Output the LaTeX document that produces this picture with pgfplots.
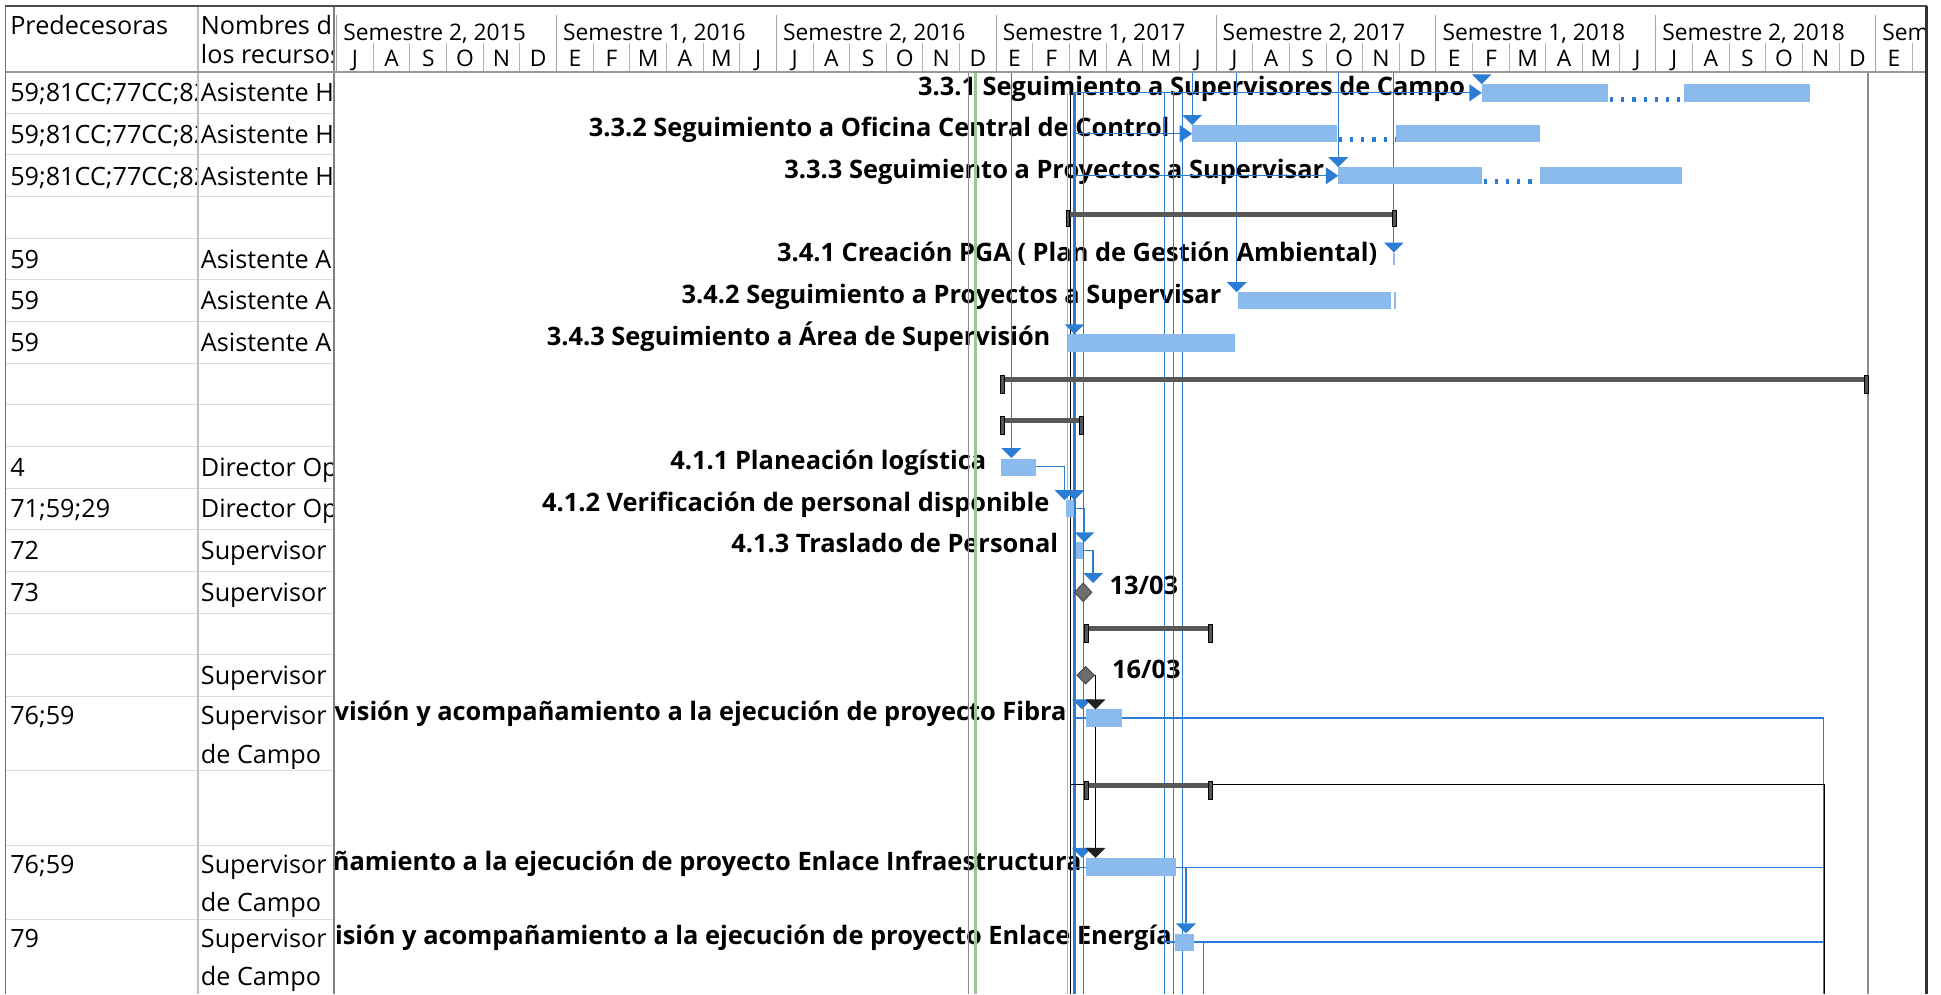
\documentclass[border=0pt]{standalone}
\usepackage{fontspec}
\setmainfont{Open Sans}
\usepackage{pgfplots}
\pgfplotsset{compat=1.18}
\definecolor{barblue}{HTML}{8ABBEC}
\definecolor{linkblue}{HTML}{2B7CD5}
\definecolor{lightlink}{HTML}{8FBCEB}
\definecolor{sumgray}{HTML}{575757}
\definecolor{msgray}{HTML}{6E6E6E}
\definecolor{todaygreen}{HTML}{94CB94}
\definecolor{gridgray}{HTML}{DCDCDC}
\definecolor{hdrgray}{HTML}{A8A8A8}
\definecolor{tickgray}{HTML}{B4B4B4}
\newcommand\tfont{\fontsize{12.6}{15}\selectfont}
\newcommand\lfont{\fontsize{12.7}{15}\selectfont\bfseries}
\newcommand\hfont{\fontsize{11.4}{13}\selectfont}
\tikzset{
  tcell/.style={anchor=base west, inner sep=0pt, font=\tfont},
  glab/.style={anchor=base east, inner sep=0pt, font=\lfont},
  glink/.style={linkblue, line width=0.6pt},
  gbar/.style={barblue, line width=8.67pt},
  gtri/.style={fill=linkblue, draw=none},
  gbtri/.style={fill=black!88, draw=none},
  gsumm/.style={sumgray, line width=2.5pt},
  gcap/.style={fill=sumgray, draw=black, line width=0.3pt},
}
\pgfplotsset{
  lay/.style={hide axis, scale only axis, y dir=reverse, ymin=0, ymax=803,
    height=497.01pt, enlargelimits=false, anchor=south west},
}
\newcommand\ML[2]{\node[anchor=base, inner sep=0pt, font=\hfont] at (#1,54) {#2};}
\begin{document}
\begin{tikzpicture}
% ---------------- column 1: Predecesoras
\begin{axis}[lay, at={(0pt,0pt)}, width=99.03pt, xmin=0, xmax=160, clip=true]
\node[tcell] at (8,28) {Predecesoras};
\node[tcell] at (8,82.2) {59;81CC;77CC;82CC};
\node[tcell] at (8,115.9) {59;81CC;77CC;82CC};
\node[tcell] at (8,149.5) {59;81CC;77CC;82CC};
\node[tcell] at (8,216.7) {59};
\node[tcell] at (8,250.3) {59};
\node[tcell] at (8,284) {59};
\node[tcell] at (8,384.8) {4};
\node[tcell] at (8,418.4) {71;59;29};
\node[tcell] at (8,452.1) {72};
\node[tcell] at (8,485.7) {73};
\node[tcell] at (8,585.5) {76;59};
\node[tcell] at (8,705.5) {76;59};
\node[tcell] at (8,765.5) {79};
\end{axis}
% ---------------- column 2: Nombres de los recursos
\begin{axis}[lay, at={(99.03pt,0pt)}, width=68.08pt, xmin=160, xmax=270, clip=true]
\node[tcell] at (162,28) {Nombres de};
\node[tcell] at (162,51.5) {los recursos};
\node[tcell] at (162,82.2) {Asistente HSEQ};
\node[tcell] at (162,115.9) {Asistente HSEQ};
\node[tcell] at (162,149.5) {Asistente HSEQ};
\node[tcell] at (162,216.7) {Asistente Ambiental};
\node[tcell] at (162,250.3) {Asistente Ambiental};
\node[tcell] at (162,284) {Asistente Ambiental};
\node[tcell] at (162,384.8) {Director Operativo};
\node[tcell] at (162,418.4) {Director Operativo};
\node[tcell] at (162,452.1) {Supervisor de Campo};
\node[tcell] at (162,485.7) {Supervisor de Campo};
\node[tcell] at (162,553) {Supervisor de Campo};
\node[tcell] at (162,585.5) {Supervisor};
\node[tcell] at (162,616.5) {de Campo};
\node[tcell] at (162,705.5) {Supervisor};
\node[tcell] at (162,736.5) {de Campo};
\node[tcell] at (162,765.5) {Supervisor};
\node[tcell] at (162,796.5) {de Campo};
\end{axis}
% ---------------- Gantt (x in months since 1 July 2015)
\begin{axis}[lay, at={(167.11pt,0pt)}, width=795.96pt, xmin=-0.06757, xmax=43.3784, clip=true]
% timescale
\addplot[tickgray, line width=0.5pt, unbounded coords=jump] coordinates {
(1,35)(1,58)(1,nan)(2,35)(2,58)(2,nan)(3,35)(3,58)(3,nan)(4,35)(4,58)(4,nan)(5,35)(5,58)(5,nan)
(7,35)(7,58)(7,nan)(8,35)(8,58)(8,nan)(9,35)(9,58)(9,nan)(10,35)(10,58)(10,nan)(11,35)(11,58)(11,nan)
(13,35)(13,58)(13,nan)(14,35)(14,58)(14,nan)(15,35)(15,58)(15,nan)(16,35)(16,58)(16,nan)(17,35)(17,58)(17,nan)
(19,35)(19,58)(19,nan)(20,35)(20,58)(20,nan)(21,35)(21,58)(21,nan)(22,35)(22,58)(22,nan)(23,35)(23,58)(23,nan)
(25,35)(25,58)(25,nan)(26,35)(26,58)(26,nan)(27,35)(27,58)(27,nan)(28,35)(28,58)(28,nan)(29,35)(29,58)(29,nan)
(31,35)(31,58)(31,nan)(32,35)(32,58)(32,nan)(33,35)(33,58)(33,nan)(34,35)(34,58)(34,nan)(35,35)(35,58)(35,nan)
(37,35)(37,58)(37,nan)(38,35)(38,58)(38,nan)(39,35)(39,58)(39,nan)(40,35)(40,58)(40,nan)(41,35)(41,58)(41,nan)
(43,35)(43,58)};
\addplot[hdrgray, line width=0.5pt, unbounded coords=jump] coordinates {
(0,12)(0,58)(0,nan)(6,12)(6,58)(6,nan)(12,12)(12,58)(12,nan)(18,12)(18,58)(18,nan)
(24,12)(24,58)(24,nan)(30,12)(30,58)(30,nan)(36,12)(36,58)(36,nan)(42,12)(42,58)};
\node[anchor=base west, inner sep=0pt, font=\hfont] at (0.17,32.5) {Semestre 2, 2015};
\node[anchor=base west, inner sep=0pt, font=\hfont] at (6.17,32.5) {Semestre 1, 2016};
\node[anchor=base west, inner sep=0pt, font=\hfont] at (12.17,32.5) {Semestre 2, 2016};
\node[anchor=base west, inner sep=0pt, font=\hfont] at (18.17,32.5) {Semestre 1, 2017};
\node[anchor=base west, inner sep=0pt, font=\hfont] at (24.17,32.5) {Semestre 2, 2017};
\node[anchor=base west, inner sep=0pt, font=\hfont] at (30.17,32.5) {Semestre 1, 2018};
\node[anchor=base west, inner sep=0pt, font=\hfont] at (36.17,32.5) {Semestre 2, 2018};
\node[anchor=base west, inner sep=0pt, font=\hfont] at (42.17,32.5) {Semestre 1, 2019};
\ML{0.5}{J}\ML{1.5}{A}\ML{2.5}{S}\ML{3.5}{O}\ML{4.5}{N}\ML{5.5}{D}
\ML{6.5}{E}\ML{7.5}{F}\ML{8.5}{M}\ML{9.5}{A}\ML{10.5}{M}\ML{11.5}{J}
\ML{12.5}{J}\ML{13.5}{A}\ML{14.5}{S}\ML{15.5}{O}\ML{16.5}{N}\ML{17.5}{D}
\ML{18.5}{E}\ML{19.5}{F}\ML{20.5}{M}\ML{21.5}{A}\ML{22.5}{M}\ML{23.5}{J}
\ML{24.5}{J}\ML{25.5}{A}\ML{26.5}{S}\ML{27.5}{O}\ML{28.5}{N}\ML{29.5}{D}
\ML{30.5}{E}\ML{31.5}{F}\ML{32.5}{M}\ML{33.5}{A}\ML{34.5}{M}\ML{35.5}{J}
\ML{36.5}{J}\ML{37.5}{A}\ML{38.5}{S}\ML{39.5}{O}\ML{40.5}{N}\ML{41.5}{D}
\ML{42.5}{E}\ML{43.5}{F}
% task names
\node[glab] at (30.81,77.5) {3.3.1 Seguimiento a Supervisores de Campo};
\node[glab] at (22.74,110.5) {3.3.2 Seguimiento a Oficina Central de Control};
\node[glab] at (26.96,144) {3.3.3 Seguimiento a Proyectos a Supervisar};
\node[glab] at (28.41,211.5) {3.4.1 Creación PGA ( Plan de Gestión Ambiental)};
\node[glab] at (24.155,245) {3.4.2 Seguimiento a Proyectos a Supervisar};
\node[glab] at (19.49,279) {3.4.3 Seguimiento a Área de Supervisión};
\node[glab] at (17.74,379.5) {4.1.1 Planeación logística};
\node[glab] at (19.46,413) {4.1.2 Verificación de personal disponible};
\node[glab] at (19.70,446.5) {4.1.3 Traslado de Personal};
\node[anchor=base west, inner sep=0pt, font=\lfont] at (21.08,480.5) {13/03};
\node[anchor=base west, inner sep=0pt, font=\lfont] at (21.15,548) {16/03};
\node[glab] at (19.93,582) {4.2.1 Supervisión y acompañamiento a la ejecución de proyecto Fibra};
\node[glab] at (20.34,703) {4.2.2 Supervisión y acompañamiento a la ejecución de proyecto Enlace Infraestructura};
\node[glab] at (22.80,763) {4.2.3 Supervisión y acompañamiento a la ejecución de proyecto Enlace Energía};
% date lines
\addplot[black!45, line width=0.5pt] coordinates {(17.23,58)(17.23,803)};
\addplot[todaygreen, line width=1.4pt] coordinates {(17.432,58)(17.432,803)};
\addplot[black!45, line width=0.6pt] coordinates {(41.791,58)(41.791,803)};
% links
\addplot[lightlink, line width=0.5pt] coordinates {(19.932,75)(19.932,803)};
\addplot[black, line width=0.5pt] coordinates {(20.034,77)(20.034,803)};
\addplot[linkblue, line width=1.2pt] coordinates {(20.135,75)(20.135,803)};
\addplot[glink] coordinates {(20.372,75)(20.372,803)};
\addplot[glink] coordinates {(22.601,75)(22.601,803)};
\addplot[glink] coordinates {(22.838,75)(22.838,803)};
\addplot[glink] coordinates {(23.074,75)(23.074,803)};
\addplot[glink] coordinates {(18.412,58)(18.412,362)};
\addplot[glink] coordinates {(23.345,58)(23.345,93)};
\addplot[glink] coordinates {(24.561,58)(24.561,228)};
\addplot[glink] coordinates {(27.331,58)(27.331,127)};
\addplot[glink] coordinates {(28.851,58)(28.851,196)};
\addplot[lightlink, line width=0.8pt] coordinates {(28.851,204)(28.851,214)};
\addplot[lightlink, line width=0.8pt] coordinates {(28.885,236)(28.885,250)};
\addplot[glink] coordinates {(20.135,75)(30.946,75)};
\addplot[glink] coordinates {(20.135,108)(23.007,108)};
\addplot[glink] coordinates {(20.135,142)(26.993,142)};
\addplot[glink] coordinates {(19.088,377)(19.865,377)(19.865,396)};
\addplot[glink] coordinates {(20.135,411)(20.405,411)(20.405,430)};
\addplot[glink] coordinates {(20.372,444.5)(20.642,444.5)(20.642,463)};
\addplot[black, line width=0.6pt] coordinates {(20.55,545.5)(20.709,545.5)(20.709,685)};
\addplot[glink] coordinates {(21.419,580)(40.574,580)(40.574,803)};
\addplot[black, line width=0.6pt] coordinates {(23.885,633.5)(40.60,633.5)(40.60,803)};
\addplot[black, line width=0.6pt] coordinates {(20.034,633.5)(20.405,633.5)};
\addplot[glink] coordinates {(22.905,701)(40.574,701)};
\addplot[glink] coordinates {(22.905,701)(23.176,701)(23.176,746)};
\addplot[glink] coordinates {(23.395,761)(40.574,761)};
\addplot[glink] coordinates {(23.395,761)(23.649,761)(23.649,803)};
\addplot[glink] coordinates {(20.135,580)(20.439,580)};
\addplot[glink] coordinates {(20.135,700.5)(20.439,700.5)};
\addplot[glink] coordinates {(22.601,761)(22.872,761)};
% task bars
\addplot[gbar] coordinates {(31.25,75)(34.696,75)};
\addplot[gbar] coordinates {(36.757,75)(40.203,75)};
\addplot[gbar] coordinates {(23.345,108)(27.297,108)};
\addplot[gbar] coordinates {(28.919,108)(32.838,108)};
\addplot[gbar] coordinates {(27.331,142)(31.25,142)};
\addplot[gbar] coordinates {(32.838,142)(36.723,142)};
\addplot[gbar] coordinates {(24.595,243)(28.784,243)};
\addplot[gbar] coordinates {(19.932,277)(24.527,277)};
\addplot[gbar] coordinates {(18.142,377.5)(19.088,377.5)};
\addplot[gbar] coordinates {(19.899,411)(20.135,411)};
\addplot[gbar] coordinates {(20.169,444.5)(20.372,444.5)};
\addplot[gbar] coordinates {(20.439,580)(21.419,580)};
\addplot[gbar] coordinates {(20.439,700.5)(22.905,700.5)};
\addplot[gbar] coordinates {(22.872,761.5)(23.395,761.5)};
% splits
\addplot[linkblue, line width=2.5pt, dash pattern=on 1.6pt off 4pt] coordinates {(34.75,80)(36.72,80)};
\addplot[linkblue, line width=2.5pt, dash pattern=on 1.6pt off 4pt] coordinates {(27.35,113)(28.9,113)};
\addplot[linkblue, line width=2.5pt, dash pattern=on 1.6pt off 4pt] coordinates {(31.3,147)(32.82,147)};
% summary bars
\addplot[gsumm] coordinates {(19.899,173)(28.919,173)};
\addplot[gcap] coordinates {(19.899,169.5)(20.0,169.5)(20.0,183)(19.899,183)} --cycle;
\addplot[gcap] coordinates {(28.818,169.5)(28.919,169.5)(28.919,183)(28.818,183)} --cycle;
\addplot[gsumm] coordinates {(18.108,306.5)(41.791,306.5)};
\addplot[gcap] coordinates {(18.108,303)(18.209,303)(18.209,317.5)(18.108,317.5)} --cycle;
\addplot[gcap] coordinates {(41.69,303)(41.791,303)(41.791,317.5)(41.69,317.5)} --cycle;
\addplot[gsumm] coordinates {(18.108,340)(20.372,340)};
\addplot[gcap] coordinates {(18.108,336.5)(18.209,336.5)(18.209,351)(18.108,351)} --cycle;
\addplot[gcap] coordinates {(20.271,336.5)(20.372,336.5)(20.372,351)(20.271,351)} --cycle;
\addplot[gsumm] coordinates {(20.405,508)(23.885,508)};
\addplot[gcap] coordinates {(20.405,504.5)(20.506,504.5)(20.506,519)(20.405,519)} --cycle;
\addplot[gcap] coordinates {(23.784,504.5)(23.885,504.5)(23.885,519)(23.784,519)} --cycle;
\addplot[gsumm] coordinates {(20.405,634.5)(23.885,634.5)};
\addplot[gcap] coordinates {(20.405,631)(20.506,631)(20.506,645.5)(20.405,645.5)} --cycle;
\addplot[gcap] coordinates {(23.784,631)(23.885,631)(23.885,645.5)(23.784,645.5)} --cycle;
% milestones
\addplot[fill=msgray, draw=black!75, line width=0.4pt] coordinates {(20.136,478.5)(20.372,471)(20.608,478.5)(20.372,486)} --cycle;
\addplot[fill=msgray, draw=black!75, line width=0.4pt] coordinates {(20.203,545.5)(20.439,538.5)(20.675,545.5)(20.439,552.5)} --cycle;
% link arrowheads (down)
\addplot[gtri] coordinates {(30.98,60)(31.52,60)(31.25,68)} --cycle;
\addplot[gtri] coordinates {(23.075,93)(23.615,93)(23.345,101)} --cycle;
\addplot[gtri] coordinates {(27.061,127)(27.601,127)(27.331,135)} --cycle;
\addplot[gtri] coordinates {(28.581,196)(29.121,196)(28.851,204)} --cycle;
\addplot[gtri] coordinates {(24.291,228)(24.831,228)(24.561,236)} --cycle;
\addplot[gtri] coordinates {(19.865,262)(20.405,262)(20.135,270)} --cycle;
\addplot[gtri] coordinates {(18.142,362)(18.682,362)(18.412,370)} --cycle;
\addplot[gtri] coordinates {(19.595,396)(20.135,396)(19.865,404)} --cycle;
\addplot[gtri] coordinates {(19.865,396)(20.405,396)(20.135,404)} --cycle;
\addplot[gtri] coordinates {(20.135,430)(20.675,430)(20.405,438)} --cycle;
\addplot[gtri] coordinates {(20.372,463)(20.912,463)(20.642,471)} --cycle;
\addplot[gtri] coordinates {(20.068,565)(20.608,565)(20.338,573)} --cycle;
\addplot[gbtri] coordinates {(20.439,565)(20.979,565)(20.709,573)} --cycle;
\addplot[gtri] coordinates {(20.068,685)(20.608,685)(20.338,693)} --cycle;
\addplot[gbtri] coordinates {(20.439,685)(20.979,685)(20.709,693)} --cycle;
\addplot[gtri] coordinates {(22.906,746)(23.446,746)(23.176,754)} --cycle;
% link arrowheads (right)
\addplot[gtri] coordinates {(30.912,68)(30.912,82)(31.25,75)} --cycle;
\addplot[gtri] coordinates {(23.007,101)(23.007,115)(23.345,108)} --cycle;
\addplot[gtri] coordinates {(26.993,135)(26.993,149)(27.331,142)} --cycle;
\end{axis}
% ---------------- grid and borders (pixel coordinates)
\begin{axis}[lay, at={(0pt,0pt)}, width=970.5pt, xmin=0, xmax=1568, clip=false]
\addplot[gridgray, line width=0.6pt, unbounded coords=jump] coordinates {
(4,91.46)(270,91.46)(4,nan)(4,125.12)(270,125.12)(4,nan)(4,158.78)(270,158.78)(4,nan)
(4,192.44)(270,192.44)(4,nan)(4,226.1)(270,226.1)(4,nan)(4,259.76)(270,259.76)(4,nan)
(4,293.42)(270,293.42)(4,nan)(4,327.08)(270,327.08)(4,nan)(4,360.74)(270,360.74)(4,nan)
(4,394.4)(270,394.4)(4,nan)(4,428.06)(270,428.06)(4,nan)(4,461.72)(270,461.72)(4,nan)
(4,495.38)(270,495.38)(4,nan)(4,529.04)(270,529.04)(4,nan)(4,562.7)(270,562.7)(4,nan)
(4,622.7)(270,622.7)(4,nan)(4,682.7)(270,682.7)(4,nan)(4,742.7)(270,742.7)};
\addplot[black!25, line width=0.6pt] coordinates {(160,5)(160,803)};
\addplot[black!50, line width=0.8pt] coordinates {(270,5)(270,803)};
\addplot[black!40, line width=1pt] coordinates {(4,58)(1556,58)};
\addplot[black!55, line width=0.8pt] coordinates {(4.5,5)(4.5,803)};
\addplot[black!70, line width=0.8pt] coordinates {(4,5)(1557,5)};
\addplot[black!80, line width=1.3pt] coordinates {(1556.5,5)(1556.5,803)};
\end{axis}
\pgfresetboundingbox
\path[use as bounding box] (0pt,0pt) rectangle (970.5pt,497.01pt);
\end{tikzpicture}
\end{document}
